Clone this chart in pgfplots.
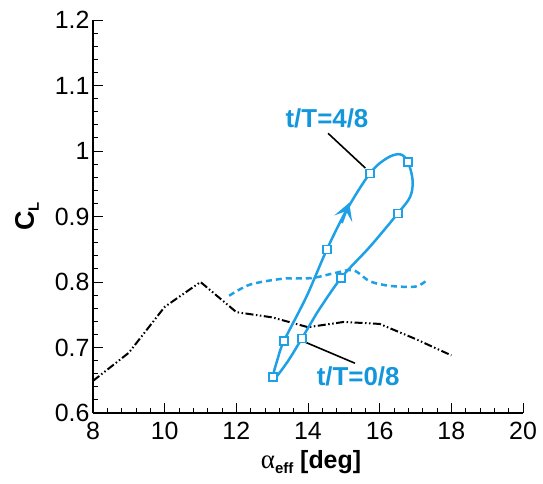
\documentclass[border=0pt]{standalone}
\usepackage{fontspec}
\setmainfont{Liberation Sans}
\newfontfamily\greekfont{Liberation Serif}
\usepackage{pgfplots}
\pgfplotsset{compat=1.18}
\usetikzlibrary{arrows.meta}
\definecolor{cblue}{RGB}{30,160,230}
\definecolor{tblue}{RGB}{20,150,220}
\begin{document}
\begin{tikzpicture}
\begin{axis}[
  at={(0,0)}, anchor=south west,
  width=430bp, height=393bp, scale only axis,
  xmin=8, xmax=20, ymin=0.6, ymax=1.2,
  axis x line*=bottom, axis y line*=left,
  axis line style={line width=1.2bp, -},
  xtick={8,10,12,14,16,18,20},
  ytick={0.6,0.7,0.8,0.9,1,1.1,1.2},
  minor x tick num=4, minor y tick num=4,
  tick align=inside,
  major tick length=10bp, minor tick length=5bp,
  every tick/.style={line width=0.9bp, black},
  ticklabel style={font=\fontsize{25}{29}\selectfont},
  xticklabel style={yshift=-6bp},
  /pgf/number format/assume math mode=true,
  xlabel={{\greekfont\fontsize{27}{30}\selectfont α}{\raisebox{-5bp}{\bfseries\fontsize{15}{18}\selectfont eff}} {\bfseries [deg]}},
  xlabel style={font=\fontsize{25}{29}\selectfont, at={(axis description cs:0.507,0)}, anchor=center, yshift=-49bp},
  ylabel={\bfseries C\raisebox{-5bp}{\fontsize{15}{18}\selectfont L}},
  ylabel style={font=\fontsize{27}{30}\selectfont, at={(axis description cs:0,0.5)}, anchor=center, yshift=66bp},
  clip=false,
]
% black dash-dot-dot line
\addplot[black, line width=2bp,
  dash pattern=on 8bp off 2.5bp on 1.5bp off 2.5bp on 1.5bp off 2.5bp]
  coordinates {(8,0.649) (9,0.692) (10,0.762) (11,0.800) (12,0.754)
    (13,0.746) (14,0.731) (15,0.739) (16,0.736) (17,0.713) (18,0.688)};
% blue dashed line
\addplot[cblue, line width=2.5bp, dash pattern=on 6bp off 4bp, smooth, tension=0.5]
  coordinates {(11.8,0.779) (12.38,0.796) (13.3,0.805) (14.1,0.806)
    (14.7,0.813) (15.26,0.818) (15.73,0.801) (16.3,0.794) (17.0,0.793) (17.3,0.802)};
% loop
\addplot[cblue, line width=2.5bp, smooth, tension=0.55]
  coordinates {(14.24,0.752) (13.83,0.714) (13.45,0.680) (13.08,0.653) (13.02,0.656)
    (13.15,0.682) (13.33,0.710) (13.96,0.778) (14.53,0.850) (15.08,0.910)
    (15.73,0.966) (16.2,0.989) (16.57,0.995) (16.79,0.983) (16.92,0.955)
    (16.85,0.930) (16.51,0.905) (15.73,0.854) (14.92,0.806) (14.24,0.752)};
% markers
\addplot[only marks, mark=square*, mark size=4bp,
  mark options={fill=white, draw=cblue, line width=1.3bp}]
  coordinates {(13.83,0.714) (13.02,0.655) (13.33,0.710) (14.53,0.850)
    (15.73,0.966) (16.79,0.983) (16.51,0.905) (14.92,0.806)};
% direction arrow
\addplot[cblue, line width=2.5bp, -{Stealth[length=17bp, width=19bp, inset=8bp]}]
  coordinates {(14.94,0.890) (15.15,0.921)};
% annotations
\draw[black, line width=1.6bp] (axis cs:14.56,1.027) -- (axis cs:15.60,0.974);
\draw[black, line width=1.6bp] (axis cs:13.93,0.708) -- (axis cs:15.31,0.676);
\node[tblue, font=\bfseries\fontsize{26}{30}\selectfont] at (axis cs:14.53,1.050) {t/T=4/8};
\node[tblue, font=\bfseries\fontsize{26}{30}\selectfont] at (axis cs:15.40,0.656) {t/T=0/8};
\end{axis}
\pgfresetboundingbox
\useasboundingbox (-93bp,-71bp) rectangle (450bp,413bp);
\end{tikzpicture}
\end{document}
